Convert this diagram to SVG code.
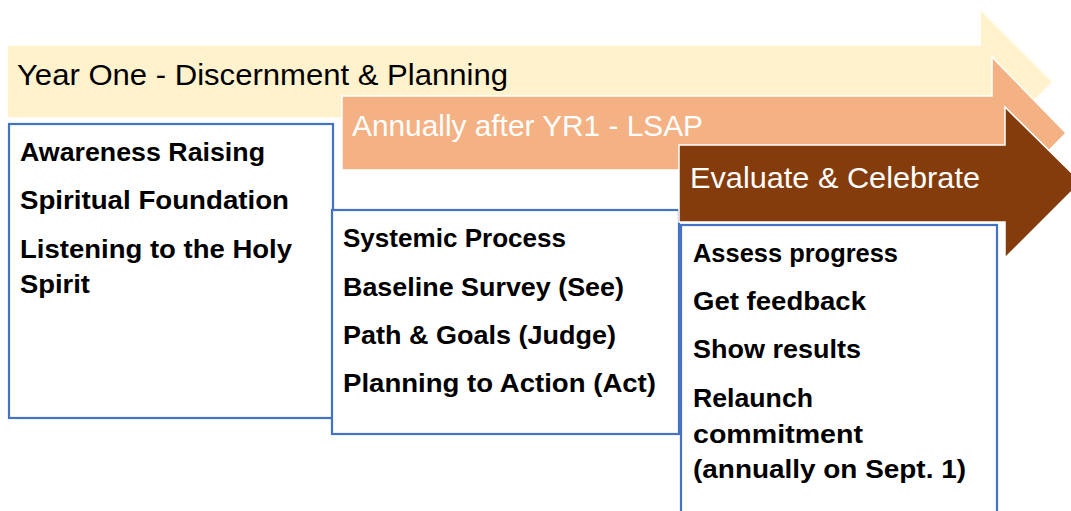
<svg xmlns="http://www.w3.org/2000/svg" width="1071" height="511" viewBox="0 0 1071 511">
<style>
.arrow{stroke:#FFFFFF;stroke-width:1.5;stroke-linejoin:miter}
.box{fill:#FFFFFF;stroke:#4472C4;stroke-width:2.2}
.head{font-family:"Liberation Sans",Arial,sans-serif;font-size:30px}
.item{font-family:"Liberation Sans",Arial,sans-serif;font-size:26px;font-weight:bold;fill:#000000}
</style>
<rect width="1071" height="511" fill="#FFFFFF"/>
<g id="arrow-year-one">
<polygon class="arrow" fill="#FFF2CC" points="7,45 980,45 980,9 1053,82 980,155 980,118 7,118"/>
<text class="head" fill="#000000" x="17" y="85" textLength="491" lengthAdjust="spacingAndGlyphs">Year One - Discernment &amp; Planning</text>
</g>
<g id="box-year-one">
<rect class="box" x="9" y="124" width="324" height="294"/>
<text class="item" x="20" y="161" textLength="245" lengthAdjust="spacingAndGlyphs">Awareness Raising</text>
<text class="item" x="20" y="209" textLength="269" lengthAdjust="spacingAndGlyphs">Spiritual Foundation</text>
<text class="item" x="20" y="258" textLength="272" lengthAdjust="spacingAndGlyphs">Listening to the Holy</text>
<text class="item" x="20" y="293" textLength="70" lengthAdjust="spacingAndGlyphs">Spirit</text>
</g>
<g id="arrow-annually">
<polygon class="arrow" fill="#F4B183" points="342,96 992,96 992,57 1066,133 992,209 992,170 342,170"/>
<text class="head" fill="#FFFFFF" x="352" y="136" textLength="351" lengthAdjust="spacingAndGlyphs">Annually after YR1 - LSAP</text>
</g>
<g id="box-annually">
<rect class="box" x="332" y="210" width="347" height="224"/>
<text class="item" x="343" y="247" textLength="223" lengthAdjust="spacingAndGlyphs">Systemic Process</text>
<text class="item" x="343" y="296" textLength="281" lengthAdjust="spacingAndGlyphs">Baseline Survey (See)</text>
<text class="item" x="343" y="344" textLength="273" lengthAdjust="spacingAndGlyphs">Path &amp; Goals (Judge)</text>
<text class="item" x="343" y="392" textLength="313" lengthAdjust="spacingAndGlyphs">Planning to Action (Act)</text>
</g>
<g id="arrow-evaluate">
<polygon class="arrow" fill="#843C0C" points="679,145 1005,145 1005,107 1081,182 1005,258 1005,222 679,222"/>
<text class="head" fill="#FFFFFF" x="690" y="188" textLength="290" lengthAdjust="spacingAndGlyphs">Evaluate &amp; Celebrate</text>
</g>
<g id="box-evaluate">
<rect class="box" x="681" y="225" width="316" height="300"/>
<text class="item" x="693" y="262" textLength="205" lengthAdjust="spacingAndGlyphs">Assess progress</text>
<text class="item" x="693" y="310" textLength="173" lengthAdjust="spacingAndGlyphs">Get feedback</text>
<text class="item" x="693" y="358" textLength="168" lengthAdjust="spacingAndGlyphs">Show results</text>
<text class="item" x="693" y="407" textLength="120" lengthAdjust="spacingAndGlyphs">Relaunch</text>
<text class="item" x="693" y="443" textLength="170" lengthAdjust="spacingAndGlyphs">commitment</text>
<text class="item" x="693" y="478" textLength="273" lengthAdjust="spacingAndGlyphs">(annually on Sept. 1)</text>
</g>
<g id="connectors"></g>
</svg>
